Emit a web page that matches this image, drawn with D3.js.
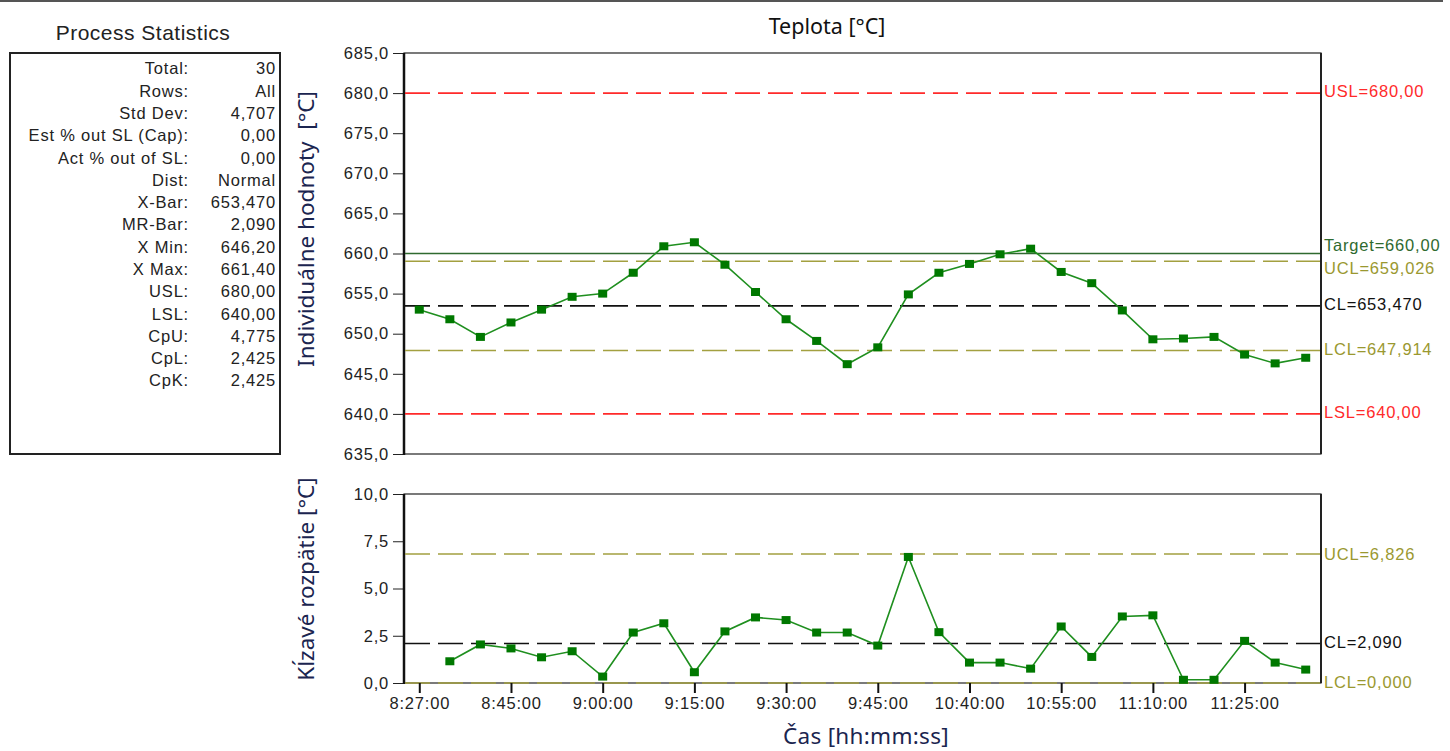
<!DOCTYPE html>
<html>
<head>
<meta charset="utf-8">
<script src="https://cdn.jsdelivr.net/npm/d3@7"></script>
<style>
  html, body { margin: 0; padding: 0; background: #fff; }
  svg { display: block; }
  text { white-space: pre; }
</style>
</head>
<body>
<div id="chart"></div>
<script>
// individual values (°C), one per sample
const values = [
  653.0, 651.8, 649.6, 651.4, 653.0, 654.6, 655.0, 657.6, 660.9, 661.4,
  658.6, 655.2, 651.8, 649.1, 646.2, 648.3, 654.9, 657.6, 658.7, 659.9,
  660.6, 657.7, 656.3, 652.9, 649.3, 649.4, 649.6, 647.4, 646.3, 647.0
];
// moving ranges, starting at the second sample
const movingRanges = [
  1.15, 2.04, 1.83, 1.36, 1.68, 0.34, 2.67, 3.16, 0.57, 2.73,
  3.47, 3.33, 2.67, 2.67, 1.98, 6.67, 2.69, 1.08, 1.08, 0.76,
  2.99, 1.38, 3.52, 3.58, 0.17, 0.17, 2.23, 1.08, 0.71
];
const tickIdx = [0, 3, 6, 9, 12, 15, 18, 21, 24, 27];
const tickLabels = ['8:27:00', '8:45:00', '9:00:00', '9:15:00', '9:30:00',
                    '9:45:00', '10:40:00', '10:55:00', '11:10:00', '11:25:00'];
const topTicks = [635, 640, 645, 650, 655, 660, 665, 670, 675, 680, 685];
const bottomTicks = [0, 2.5, 5, 7.5, 10];

const topLimits = [
  { name: 'USL', value: 680, label: 'USL=680,00', kind: 'spec' },
  { name: 'Target', value: 660, label: 'Target=660,00', kind: 'target' },
  { name: 'UCL', value: 659.026, label: 'UCL=659,026', kind: 'ctrl' },
  { name: 'CL', value: 653.47, label: 'CL=653,470', kind: 'center' },
  { name: 'LCL', value: 647.914, label: 'LCL=647,914', kind: 'ctrl' },
  { name: 'LSL', value: 640, label: 'LSL=640,00', kind: 'spec' }
];
const bottomLimits = [
  { name: 'UCL', value: 6.826, label: 'UCL=6,826', kind: 'ctrl' },
  { name: 'CL', value: 2.09, label: 'CL=2,090', kind: 'center' },
  { name: 'LCL', value: 0, label: 'LCL=0,000', kind: 'ctrl' }
];

const statLabels = ['Total:', 'Rows:', 'Std Dev:', 'Est % out SL (Cap):', 'Act % out of SL:',
  'Dist:', 'X-Bar:', 'MR-Bar:', 'X Min:', 'X Max:', 'USL:', 'LSL:', 'CpU:', 'CpL:', 'CpK:'];
const statValues = ['30', 'All', '4,707', '0,00', '0,00', 'Normal', '653,470', '2,090',
  '646,20', '661,40', '680,00', '640,00', '4,775', '2,425', '2,425'];

const W = 1450, H = 751;
const plotLeft = 404, plotRight = 1321;
const topBox = { y0: 53, y1: 454 };
const botBox = { y0: 494, y1: 683 };

const colors = {
  spec: '#ff2a2a',
  target: '#2f6a2f',
  ctrl: '#a3a040',
  ctrlText: '#9a9830',
  center: '#111',
  line: '#1f8f1f',
  marker: '#007800',
  title: '#1b2550'
};
const tickFont = '"Liberation Sans", Arial, sans-serif';
const titleFont = '"Noto Sans", "Open Sans", sans-serif';
const smallSize = 16.5, smallSpacing = 0.8;

const svg = d3.select('#chart').append('svg')
  .attr('width', W).attr('height', H);

// frame line at the very top
svg.append('line').attr('x1', 0).attr('x2', 1443).attr('y1', 1).attr('y2', 1)
  .attr('stroke', '#555').attr('stroke-width', 2);

// ---------- Process statistics panel ----------
svg.append('text').attr('x', 143).attr('y', 34)
  .attr('text-anchor', 'middle').attr('dominant-baseline', 'middle')
  .attr('font-family', tickFont).attr('font-size', 21).attr('letter-spacing', 0.5).attr('fill', '#222')
  .text('Process Statistics');
svg.append('rect').attr('x', 10).attr('y', 53).attr('width', 270).attr('height', 401)
  .attr('fill', 'none').attr('stroke', '#222').attr('stroke-width', 2);

const statY = d3.scalePoint().domain(d3.range(statLabels.length)).range([70, 382]);
const stats = svg.append('g').attr('font-family', tickFont).attr('font-size', smallSize)
  .attr('letter-spacing', smallSpacing).attr('fill', '#222');
stats.selectAll('text.lbl').data(statLabels).join('text').attr('class', 'lbl')
  .attr('x', 189).attr('y', (d, i) => statY(i))
  .attr('text-anchor', 'end').attr('dominant-baseline', 'middle').text(d => d);
stats.selectAll('text.val').data(statValues).join('text').attr('class', 'val')
  .attr('x', 276).attr('y', (d, i) => statY(i))
  .attr('text-anchor', 'end').attr('dominant-baseline', 'middle').text(d => d);

// ---------- scales ----------
const x = d3.scalePoint().domain(d3.range(values.length)).range([plotLeft, plotRight]).padding(0.5);
const yTop = d3.scaleLinear().domain([635, 685]).range([topBox.y1, topBox.y0]);
const yBot = d3.scaleLinear().domain([0, 10]).range([botBox.y1, botBox.y0]);
const fmt1 = d => d.toFixed(1).replace('.', ',');

function drawPanel(yScale, box, ticks, limits, data, offset, labelDy) {
  const g = svg.append('g');

  // y axis ticks
  const ax = g.append('g').attr('transform', `translate(${plotLeft},0)`)
    .call(d3.axisLeft(yScale).tickValues(ticks).tickFormat(fmt1).tickSize(11).tickPadding(4));
  ax.select('.domain').remove();
  ax.selectAll('.tick line').attr('stroke', '#222');
  ax.selectAll('.tick text').attr('font-family', tickFont).attr('font-size', smallSize)
    .attr('fill', '#222').attr('letter-spacing', smallSpacing);

  // frame
  g.append('rect').attr('x', plotLeft).attr('y', box.y0)
    .attr('width', plotRight - plotLeft).attr('height', box.y1 - box.y0)
    .attr('fill', 'none').attr('stroke', '#222').attr('stroke-width', 1.2);
  g.append('line').attr('x1', plotLeft).attr('x2', plotLeft).attr('y1', box.y0).attr('y2', box.y1 + 1)
    .attr('stroke', '#111').attr('stroke-width', 2.5);
  g.append('line').attr('x1', plotRight).attr('x2', plotRight).attr('y1', box.y0).attr('y2', box.y1)
    .attr('stroke', '#222').attr('stroke-width', 2);

  // limit lines
  g.selectAll('line.limit').data(limits).join('line').attr('class', 'limit')
    .attr('x1', plotLeft + 1).attr('x2', plotRight - 1)
    .attr('y1', d => yScale(d.value)).attr('y2', d => yScale(d.value))
    .attr('stroke', d => colors[d.kind])
    .attr('stroke-width', d => d.kind === 'target' ? 1.3 : 1.6)
    .attr('stroke-dasharray', d => d.kind === 'target' ? null : '25,8');

  g.selectAll('text.limit').data(limits).join('text').attr('class', 'limit')
    .attr('x', plotRight + 3).attr('y', d => yScale(d.value) + (labelDy[d.name] || 0))
    .attr('dominant-baseline', 'middle')
    .attr('font-family', tickFont).attr('font-size', smallSize).attr('letter-spacing', smallSpacing)
    .attr('fill', d => d.kind === 'ctrl' ? colors.ctrlText : colors[d.kind])
    .text(d => d.label);

  // data line + markers
  const line = d3.line().x((d, i) => x(i + offset)).y(d => yScale(d));
  g.append('path').datum(data).attr('d', line)
    .attr('fill', 'none').attr('stroke', colors.line).attr('stroke-width', 1.6);
  g.selectAll('rect.pt').data(data).join('rect').attr('class', 'pt')
    .attr('x', (d, i) => x(i + offset) - 4.5).attr('y', d => yScale(d) - 4)
    .attr('width', 9).attr('height', 8).attr('fill', colors.marker);
  return g;
}

drawPanel(yTop, topBox, topTicks, topLimits, values, 0, { Target: -7, UCL: 8 });
drawPanel(yBot, botBox, bottomTicks, bottomLimits, movingRanges, 1, { UCL: 2, LCL: 1 });

// x axis on the lower panel
const xAx = svg.append('g').attr('transform', `translate(0,${botBox.y1})`)
  .call(d3.axisBottom(x).tickValues(tickIdx)
    .tickFormat(i => tickLabels[tickIdx.indexOf(i)]).tickSize(10).tickPadding(4));
xAx.select('.domain').remove();
xAx.selectAll('.tick line').attr('stroke', '#111').attr('stroke-width', 2);
xAx.selectAll('.tick text').attr('font-family', tickFont).attr('font-size', smallSize)
  .attr('fill', '#222').attr('letter-spacing', smallSpacing);

// titles
svg.append('text').attr('x', 827).attr('y', 28)
  .attr('text-anchor', 'middle').attr('dominant-baseline', 'middle')
  .attr('font-family', titleFont).attr('font-size', 21.5).attr('fill', '#111')
  .text('Teplota [°C]');
svg.append('text').attr('x', 866).attr('y', 738)
  .attr('text-anchor', 'middle').attr('dominant-baseline', 'middle')
  .attr('font-family', titleFont).attr('font-size', 22.5).attr('letter-spacing', 0.3)
  .attr('fill', colors.title)
  .text('Čas [hh:mm:ss]');
svg.append('text').attr('transform', 'translate(308,229) rotate(-90)')
  .attr('text-anchor', 'middle').attr('dominant-baseline', 'middle')
  .attr('font-family', titleFont).attr('font-size', 22.5).attr('fill', colors.title)
  .text('Individuálne hodnoty  [°C]');
svg.append('text').attr('transform', 'translate(308,579) rotate(-90)')
  .attr('text-anchor', 'middle').attr('dominant-baseline', 'middle')
  .attr('font-family', titleFont).attr('font-size', 22.5).attr('fill', colors.title)
  .text('Kĺzavé rozpätie [°C]');
</script>
</body>
</html>
